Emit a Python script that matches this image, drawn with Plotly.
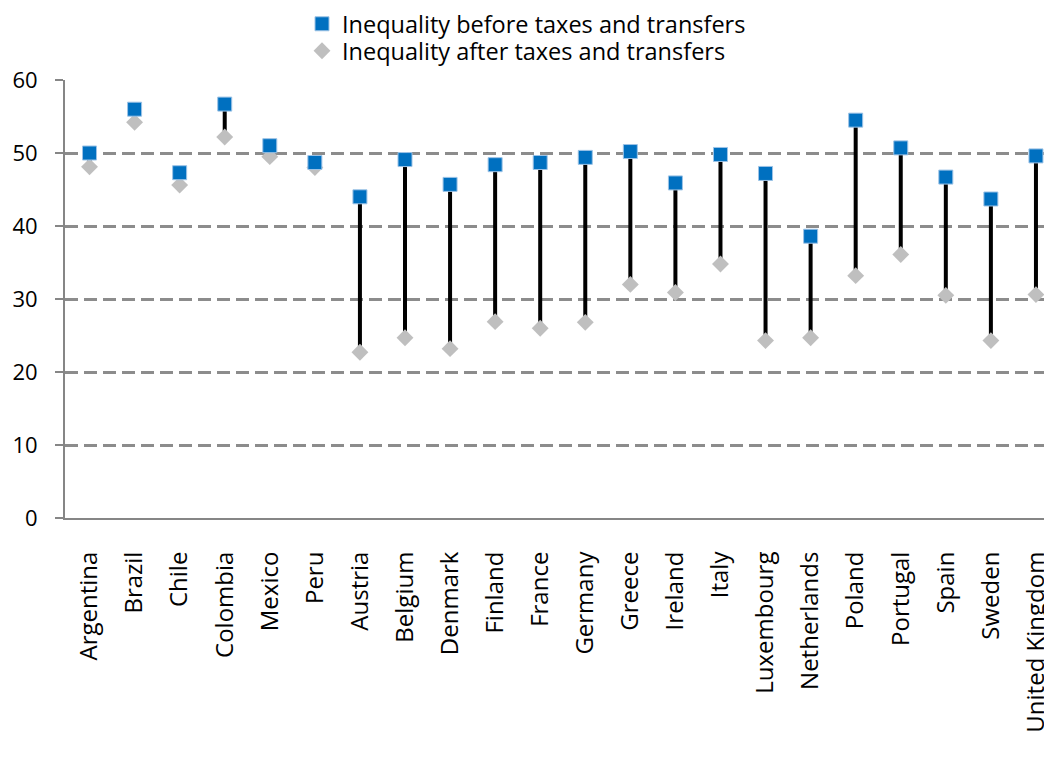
import plotly.graph_objects as go

countries = ["Argentina", "Brazil", "Chile", "Colombia", "Mexico", "Peru", "Austria",
             "Belgium", "Denmark", "Finland", "France", "Germany", "Greece", "Ireland",
             "Italy", "Luxembourg", "Netherlands", "Poland", "Portugal", "Spain",
             "Sweden", "United Kingdom"]
before = [50.0, 56.0, 47.3, 56.7, 51.0, 48.7, 44.0, 49.1, 45.7, 48.4, 48.7, 49.4,
          50.2, 45.9, 49.8, 47.2, 38.6, 54.5, 50.7, 46.7, 43.7, 49.6]
after = [48.1, 54.2, 45.6, 52.2, 49.5, 48.0, 22.7, 24.7, 23.2, 26.9, 26.0, 26.8,
         32.0, 30.9, 34.8, 24.3, 24.7, 33.2, 36.1, 30.5, 24.3, 30.6]
y_ticks = [0, 10, 20, 30, 40, 50, 60]

# connector lines built from the data
lx, ly = [], []
for c, b, a in zip(countries, before, after):
    lx += [c, c, None]
    ly += [b, a, None]

fig = go.Figure()
fig.add_trace(go.Scatter(x=lx, y=ly, mode="lines", line=dict(color="black", width=4),
                         showlegend=False, hoverinfo="skip"))
fig.add_trace(go.Scatter(x=countries, y=after, mode="markers",
                         name="Inequality after taxes and transfers",
                         marker=dict(symbol="diamond", size=13, color="#BFBFBF"),
                         legend="legend2"))
fig.add_trace(go.Scatter(x=countries, y=before, mode="markers",
                         name="Inequality before taxes and transfers",
                         marker=dict(symbol="square", size=14, color="#0070C0",
                                     line=dict(color="#9DC3E6", width=1)),
                         legend="legend"))

# the page adds an 8px body margin; figure coordinates are page coordinates - 8
FIG_W, FIG_H = 1044, 750
PLOT_L, PLOT_W = 57, 987
PLOT_T, PLOT_H = 72, 438
leg_x = (294 - PLOT_L) / PLOT_W
leg_common = dict(xref="paper", yref="paper", x=leg_x, xanchor="left",
                  yanchor="middle", font=dict(family="Open Sans", size=23.5, color="black"),
                  itemwidth=30, bgcolor="rgba(0,0,0,0)")

fig.update_layout(
    width=FIG_W, height=FIG_H,
    margin=dict(l=PLOT_L, r=FIG_W - PLOT_L - PLOT_W, t=PLOT_T,
                b=FIG_H - PLOT_T - PLOT_H, autoexpand=False),
    plot_bgcolor="white", paper_bgcolor="white",
    font=dict(family="Open Sans", color="black"),
    legend=dict(y=1 + (PLOT_T - 16) / PLOT_H, **leg_common),
    legend2=dict(y=1 + (PLOT_T - 43) / PLOT_H, **leg_common),
    xaxis=dict(type="category", categoryorder="array", categoryarray=countries,
               range=[-0.544, 21.356], tickangle=-90, showgrid=False,
               showline=True, linecolor="#868686", linewidth=2,
               ticks="", ticklabelstandoff=22, automargin=False,
               tickfont=dict(family="Open Sans", size=24, color="black")),
    yaxis=dict(range=[0, 60], tickvals=y_ticks, showgrid=True,
               gridcolor="#8C8C8C", griddash="13px,6px", gridwidth=2.5,
               showline=True, linecolor="#868686", linewidth=2,
               ticks="outside", ticklen=8, tickcolor="#868686", tickwidth=2,
               ticklabelstandoff=13,
               zeroline=False, automargin=False,
               tickfont=dict(family="Open Sans", size=22, color="black")),
)

fig.write_html("out.html")
